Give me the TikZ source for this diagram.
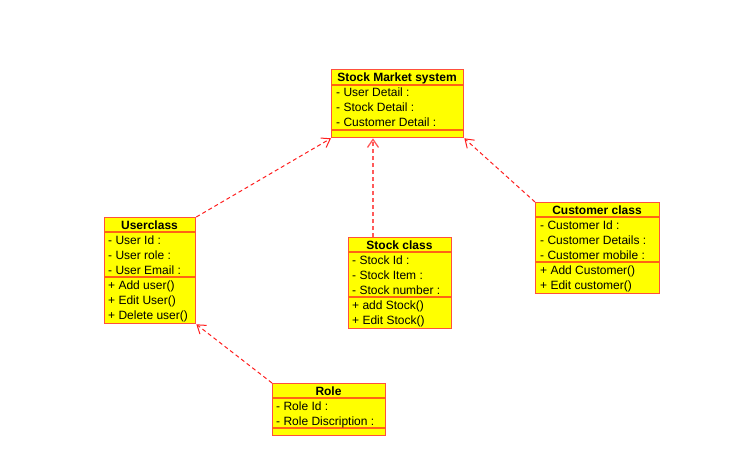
\documentclass[tikz,border=0pt]{standalone}
\usepackage{fontspec}
\setmainfont{Liberation Sans}
\usetikzlibrary{arrows.meta}
\definecolor{boxfill}{RGB}{255,255,0}
\definecolor{boxline}{RGB}{255,80,60}
\definecolor{compline}{RGB}{255,100,20}
\definecolor{depline}{RGB}{255,30,30}
\definecolor{deplight}{RGB}{255,90,90}
\tikzset{
  classbox/.style={draw=boxline, fill=boxfill, line width=1.3pt, inner sep=0pt, anchor=north west},
  compsep/.style={draw=compline, line width=1.6pt},
  member/.style={anchor=west, inner sep=0pt, yshift=-1.4pt, font=\fontsize{12}{14}\selectfont, text height=8.6pt, text depth=2.4pt},
  ctitle/.style={inner sep=0pt, yshift=-1.4pt, font=\fontsize{12}{14}\selectfont\bfseries, text height=8.6pt, text depth=2.4pt},
  depends/.style={draw=depline, dash pattern=on 4pt off 3pt, line width=1pt, -{Straight Barb[length=8pt,width=11pt]}},
}
\begin{document}
\begin{tikzpicture}[x=1pt, y=-1pt]
  \useasboundingbox (0,0) rectangle (746,472);

  % Stock Market system
  \node[classbox, minimum width=132pt, minimum height=68pt] (sms) at (331,69) {};
  \draw[compsep] (331,85) -- (463,85);
  \draw[compsep] (331,130) -- (463,130);
  \node[ctitle] (sms-t) at (397,77) {Stock Market system};
  \node[member] (sms-a1) at (336,92) {- User Detail :};
  \node[member] (sms-a2) at (336,107) {- Stock Detail :};
  \node[member] (sms-a3) at (336,122) {- Customer Detail :};

  % Userclass
  \node[classbox, minimum width=91pt, minimum height=106pt] (user) at (104,217) {};
  \draw[compsep] (104,232) -- (195,232);
  \draw[compsep] (104,277) -- (195,277);
  \node[ctitle] (user-t) at (149.5,225) {Userclass};
  \node[member] (user-a1) at (108,240) {- User Id :};
  \node[member] (user-a2) at (108,255) {- User role :};
  \node[member] (user-a3) at (108,270) {- User Email :};
  \node[member] (user-o1) at (108,285) {+ Add user()};
  \node[member] (user-o2) at (108,300) {+ Edit User()};
  \node[member] (user-o3) at (108,315) {+ Delete user()};

  % Stock class
  \node[classbox, minimum width=103pt, minimum height=91pt] (stock) at (348,237) {};
  \draw[compsep] (348,252) -- (451,252);
  \draw[compsep] (348,297) -- (451,297);
  \node[ctitle] (stock-t) at (399.5,245) {Stock class};
  \node[member] (stock-a1) at (352,260) {- Stock Id :};
  \node[member] (stock-a2) at (352,275) {- Stock Item :};
  \node[member] (stock-a3) at (352,290) {- Stock number :};
  \node[member] (stock-o1) at (352,305) {+ add Stock()};
  \node[member] (stock-o2) at (352,320) {+ Edit Stock()};

  % Customer class
  \node[classbox, minimum width=124pt, minimum height=91pt] (cust) at (535,202) {};
  \draw[compsep] (535,217) -- (659,217);
  \draw[compsep] (535,262) -- (659,262);
  \node[ctitle] (cust-t) at (597,210) {Customer class};
  \node[member] (cust-a1) at (540,225) {- Customer Id :};
  \node[member] (cust-a2) at (540,240) {- Customer Details :};
  \node[member] (cust-a3) at (540,255) {- Customer mobile :};
  \node[member] (cust-o1) at (540,270) {+ Add Customer()};
  \node[member] (cust-o2) at (540,285) {+ Edit customer()};

  % Role
  \node[classbox, minimum width=113pt, minimum height=52pt] (role) at (272,383) {};
  \draw[compsep] (272,398) -- (385,398);
  \draw[compsep] (272,428) -- (385,428);
  \node[ctitle] (role-t) at (328.5,391) {Role};
  \node[member] (role-a1) at (276,406) {- Role Id :};
  \node[member] (role-a2) at (276,421) {- Role Discription :};

  % Dependencies
  \coordinate (stock-top) at (373,237);
  \draw[depends] (user.north east) -- (sms.south west);
  \draw[depends, draw=deplight, line width=1.3pt] (stock-top) -- (stock-top |- sms.south);
  \draw[depends] (cust.north west) -- (sms.south east);
  \draw[depends] (role.north west) -- (user.south east);
\end{tikzpicture}
\end{document}
